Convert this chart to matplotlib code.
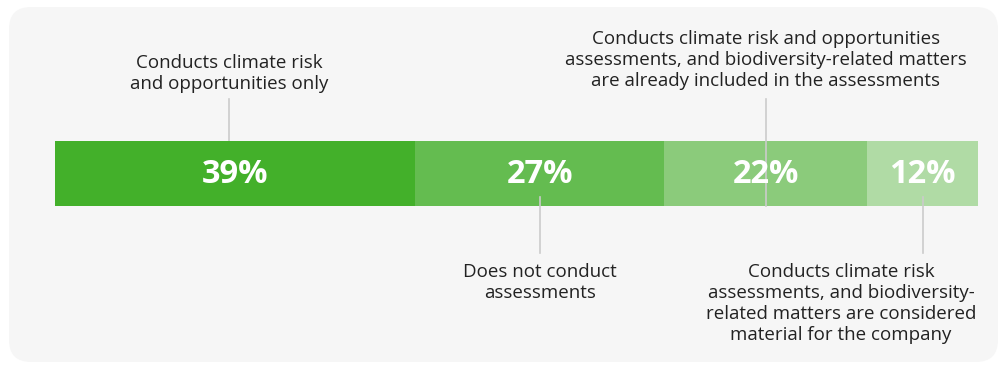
import matplotlib.pyplot as plt
import matplotlib.transforms as mtransforms
from matplotlib.patches import FancyBboxPatch
import numpy as np

plt.rcParams['font.family'] = ['Open Sans', 'DejaVu Sans']

shares = [39, 27, 22, 12]
colors = ['#43b02a', '#64bc50', '#8bcb7b', '#b0dba5']
labels = [
    'Conducts climate risk\nand opportunities only',
    'Does not conduct\nassessments',
    'Conducts climate risk and opportunities\nassessments, and biodiversity-related matters\nare already included in the assessments',
    'Conducts climate risk\nassessments, and biodiversity-\nrelated matters are considered\nmaterial for the company',
]

W, H = 1005, 367
fig = plt.figure(figsize=(W / 100, H / 100), dpi=100)
fig.patch.set_facecolor('white')

ax = fig.add_axes([0, 0, 1, 1])
ax.set_facecolor('none')
x0, x1 = 55, 978
scale = (x1 - x0) / 100.0
ax.set_xlim(-x0 / scale, (W - x0) / scale)
ax.set_ylim(H, 0)
ax.axis('off')

# rounded grey panel behind everything (pixel coords, origin top-left)
px = mtransforms.Affine2D().scale(1 / 100, -1 / 100).translate(0, H / 100) + fig.dpi_scale_trans
r = 22
panel = FancyBboxPatch((9 + r, 7 + r), 989 - 2 * r, 355 - 2 * r,
                       boxstyle=f'round,pad={r}', transform=px,
                       facecolor='#f6f6f6', edgecolor='none', zorder=0)
ax.add_patch(panel)

bar_y, bar_h = 173.5, 65
lefts = np.concatenate([[0], np.cumsum(shares)[:-1]])
ax.barh(bar_y, shares, left=lefts, height=bar_h, color=colors, edgecolor='none', zorder=2)

centers = lefts + np.array(shares) / 2
for c, s in zip(centers, shares):
    ax.text(c, bar_y + 1, f'{s}%', ha='center', va='center', color='white',
            fontsize=23.5, fontweight='bold', zorder=4)


def to_pct(pix):
    return (pix - x0) / scale


line_col = '#cbcbcb'
label_col = '#222222'
kw = dict(ha='center', fontsize=13.5, color=label_col, linespacing=1.22, zorder=5)

# callouts above the bar
ax.plot([to_pct(229)] * 2, [99, 141], color=line_col, lw=1.2, zorder=1)
ax.text(to_pct(229), 93, labels[0], va='bottom', **kw)
ax.plot([centers[2]] * 2, [99, 206], color=line_col, lw=1.2, zorder=3)
ax.text(centers[2], 90, labels[2], va='bottom', **kw)

# callouts below the bar
ax.plot([centers[1]] * 2, [197, 253], color=line_col, lw=1.2, zorder=3)
ax.text(centers[1], 263, labels[1], va='top', **kw)
ax.plot([centers[3]] * 2, [197, 253], color=line_col, lw=1.2, zorder=3)
ax.text(to_pct(841), 263, labels[3], va='top', **kw)

fig.savefig('out.png', dpi=100, facecolor='white')
